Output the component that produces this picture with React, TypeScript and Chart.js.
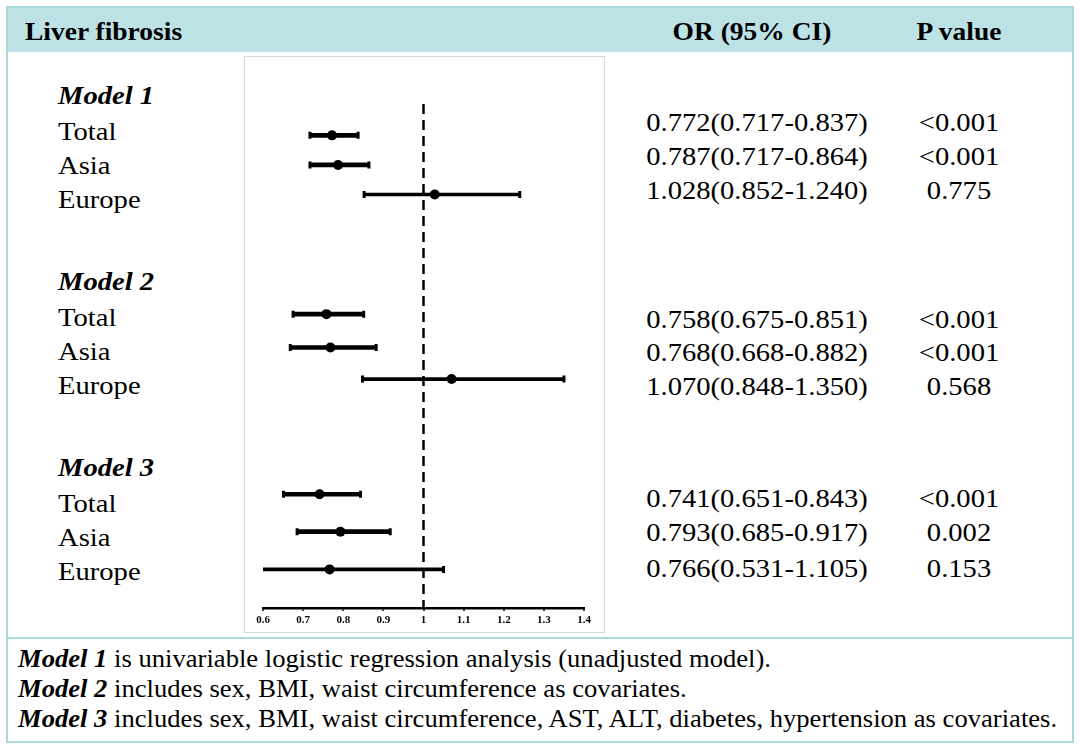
import React, { useEffect, useRef } from 'react';
import { Chart, registerables } from 'chart.js';

Chart.register(...registerables);

// ---------- data ----------
const modelNames = ['Model 1', 'Model 2', 'Model 3'];
const regionNames = ['Total', 'Asia', 'Europe'];
const oddsRatios = [0.772, 0.787, 1.028, 0.758, 0.768, 1.07, 0.741, 0.793, 0.766];
const ciLower = [0.717, 0.717, 0.852, 0.675, 0.668, 0.848, 0.651, 0.685, 0.531];
const ciUpper = [0.837, 0.864, 1.24, 0.851, 0.882, 1.35, 0.843, 0.917, 1.05];
const rowY = [2.1, 2.97, 3.84, 7.36, 8.34, 9.27, 12.66, 13.76, 14.87];
const orLabels = [
  '0.772(0.717-0.837)',
  '0.787(0.717-0.864)',
  '1.028(0.852-1.240)',
  '0.758(0.675-0.851)',
  '0.768(0.668-0.882)',
  '1.070(0.848-1.350)',
  '0.741(0.651-0.843)',
  '0.793(0.685-0.917)',
  '0.766(0.531-1.105)',
];
const pLabels = ['<0.001', '<0.001', '0.775', '<0.001', '<0.001', '0.568', '<0.001', '0.002', '0.153'];
const xTicks = [0.6, 0.7, 0.8, 0.9, 1, 1.1, 1.2, 1.3, 1.4];
const refValue = 1;
const refLineStart = 1.18;
const footnotes = [
  'is univariable logistic regression analysis (unadjusted model).',
  'includes sex, BMI, waist circumference as covariates.',
  'includes sex, BMI, waist circumference, AST, ALT, diabetes, hypertension as covariates.',
];
const headerTitle = 'Liver fibrosis';
const headerOR = 'OR (95% CI)';
const headerP = 'P value';

const FONT = '"Liberation Serif", "Times New Roman", "DejaVu Serif", serif';
const STRETCH = 1.1;

type TProps = {
  x: number;
  y: number;
  size: number;
  bold?: boolean;
  italic?: boolean;
  center?: boolean;
  children: React.ReactNode;
};

function T({ x, y, size, bold, italic, center, children }: TProps) {
  const lh = Math.round(size * 1.25);
  const style: React.CSSProperties = {
    position: 'absolute',
    left: x,
    top: y - lh / 2,
    height: lh,
    lineHeight: `${lh}px`,
    fontSize: size,
    fontFamily: FONT,
    fontWeight: bold ? 700 : 400,
    fontStyle: italic ? 'italic' : 'normal',
    whiteSpace: 'nowrap',
    color: '#000',
    transform: center ? `translateX(-50%) scaleX(${STRETCH})` : `scaleX(${STRETCH})`,
    transformOrigin: center ? 'center center' : 'left center',
  };
  return <div style={style}>{children}</div>;
}

function ForestChart() {
  const ref = useRef<HTMLCanvasElement | null>(null);
  useEffect(() => {
    if (!ref.current) return;
    const n = oddsRatios.length;
    const idx = Array.from({ length: n }, (_, i) => i);
    const thick = idx.filter((i) => i % 3 !== 2);
    const thin = idx.filter((i) => i % 3 === 2);
    const barData = (list: number[]) => list.map((i) => ({ x: [ciLower[i], ciUpper[i]], y: rowY[i] }));
    const chart = new Chart(ref.current, {
      type: 'bar',
      data: {
        datasets: [
          {
            type: 'scatter',
            data: oddsRatios.map((v, i) => ({ x: v, y: rowY[i] })),
            pointRadius: 5,
            pointBackgroundColor: '#000',
            pointBorderColor: '#000',
            pointBorderWidth: 0,
            order: 0,
          } as any,
          {
            type: 'scatter',
            data: [
              ...ciLower.map((v, i) => ({ x: v, y: rowY[i] })),
              ...ciUpper.map((v, i) => ({ x: v, y: rowY[i] })),
            ],
            pointStyle: 'line',
            rotation: 90,
            pointRadius: 3.5,
            pointBorderColor: '#000',
            pointBorderWidth: 3,
            clip: 0,
            order: 1,
          } as any,
          {
            type: 'bar',
            indexAxis: 'y',
            data: barData(thick),
            backgroundColor: '#000',
            barThickness: 4,
            grouped: false,
            borderWidth: 0,
            clip: 0,
            order: 2,
          } as any,
          {
            type: 'bar',
            indexAxis: 'y',
            data: barData(thin),
            backgroundColor: '#000',
            barThickness: 3,
            grouped: false,
            borderWidth: 0,
            clip: 0,
            order: 2,
          } as any,
          {
            type: 'scatter',
            showLine: true,
            data: [
              { x: refValue, y: refLineStart },
              { x: refValue, y: 16 },
            ],
            borderColor: '#000',
            borderWidth: 2.5,
            borderDash: [10, 6],
            pointRadius: 0,
            order: 3,
          } as any,
        ],
      },
      options: {
        animation: false,
        responsive: false,
        maintainAspectRatio: false,
        devicePixelRatio: 1,
        layout: { padding: { left: 18, right: 20, top: 0, bottom: 2 } },
        plugins: { legend: { display: false }, tooltip: { enabled: false } },
        events: [],
        scales: {
          x: {
            type: 'linear',
            offset: false,
            min: 0.6,
            max: 1.4,
            afterBuildTicks: (axis: any) => {
              axis.ticks = xTicks.map((v) => ({ value: v }));
            },
            ticks: {
              color: '#000',
              padding: 3,
              font: { family: FONT, size: 11, weight: 'bold', lineHeight: 1.2 },
              callback: (v: any) => String(Math.round(Number(v) * 10) / 10),
              maxRotation: 0,
              autoSkip: false,
            },
            grid: {
              display: true,
              offset: false,
              drawOnChartArea: false,
              drawTicks: true,
              tickLength: 3,
              color: '#000',
              lineWidth: 2,
            },
            border: { display: true, color: '#000', width: 2.5 },
          },
          y: {
            type: 'linear',
            offset: false,
            min: 0,
            max: 16,
            reverse: true,
            display: false,
            grid: { offset: false },
          },
        },
      } as any,
    });
    return () => chart.destroy();
  }, []);
  return <canvas ref={ref} width={359} height={575} style={{ display: 'block', width: 359, height: 575 }} />;
}

export default function App() {
  const teal = '#a9d9dd';
  const groupY = [95, 281, 467];
  const regionOffsets = [36, 70, 104];
  const tableY = [122, 156, 190, 319, 352, 386, 498, 532, 568];
  const footY = [659, 689, 719];
  return (
    <div
      style={{
        position: 'absolute',
        left: 0,
        top: 0,
        width: 1080,
        height: 748,
        background: '#fff',
        overflow: 'hidden',
        fontFamily: FONT,
      }}
    >
      {/* header band */}
      <div style={{ position: 'absolute', left: 6, top: 6, width: 1068, height: 46, background: '#bde2e5' }} />
      {/* outer frame */}
      <div
        style={{
          position: 'absolute',
          left: 6,
          top: 6,
          width: 1068,
          height: 737,
          border: `2px solid ${teal}`,
          boxSizing: 'border-box',
        }}
      />
      {/* footer separator */}
      <div style={{ position: 'absolute', left: 6, top: 637, width: 1068, height: 2, background: teal }} />

      {/* chart box */}
      <div
        style={{
          position: 'absolute',
          left: 244,
          top: 56,
          width: 361,
          height: 577,
          border: '1px solid #d8d8d8',
          boxSizing: 'border-box',
          background: '#fff',
        }}
      >
        <ForestChart />
      </div>

      {/* header text */}
      <T x={25} y={31} size={25} bold>
        {headerTitle}
      </T>
      <T x={752} y={31} size={25} bold center>
        {headerOR}
      </T>
      <T x={959} y={31} size={25} bold center>
        {headerP}
      </T>

      {/* row labels */}
      {modelNames.map((m, g) => (
        <React.Fragment key={m}>
          <T x={58} y={groupY[g]} size={26} bold italic>
            {m}
          </T>
          {regionNames.map((r, k) => (
            <T key={r} x={58} y={groupY[g] + regionOffsets[k]} size={26}>
              {r}
            </T>
          ))}
        </React.Fragment>
      ))}

      {/* OR and P columns */}
      {orLabels.map((s, i) => (
        <T key={'or' + i} x={757} y={tableY[i]} size={26} center>
          {s}
        </T>
      ))}
      {pLabels.map((s, i) => (
        <T key={'p' + i} x={959} y={tableY[i]} size={26} center>
          {s}
        </T>
      ))}

      {/* footnotes */}
      {footnotes.map((f, i) => (
        <T key={'f' + i} x={18} y={footY[i]} size={24.2}>
          <b>
            <i>{modelNames[i]}</i>
          </b>{' '}
          {f}
        </T>
      ))}
    </div>
  );
}
